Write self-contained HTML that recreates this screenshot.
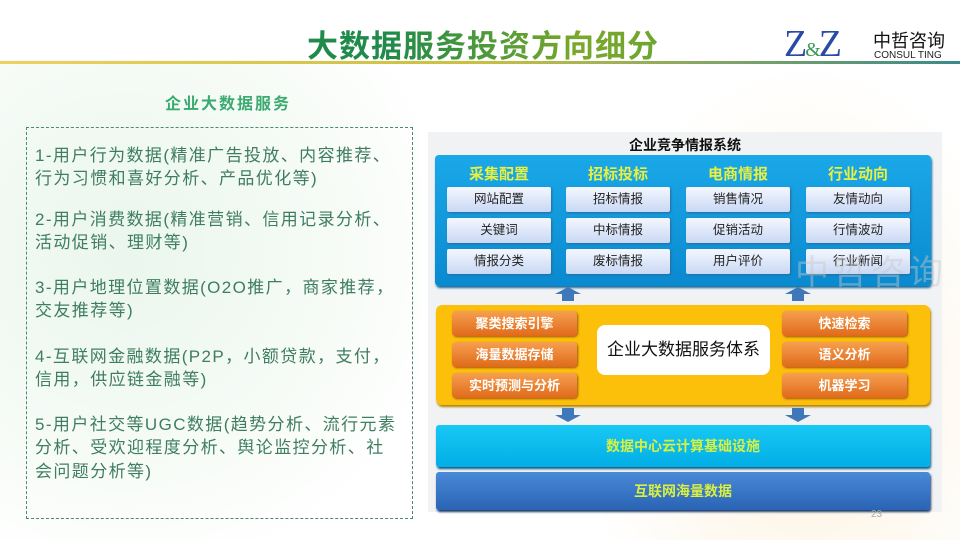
<!DOCTYPE html>
<html><head><meta charset="utf-8"><style>
*{margin:0;padding:0;box-sizing:border-box}
body{width:960px;height:540px;position:relative;overflow:hidden;background:#fff;font-family:"Liberation Sans","Noto Sans CJK SC",sans-serif}
.a{position:absolute}
.bg1{left:0;top:60px;width:420px;height:480px;background:radial-gradient(ellipse at 30% 40%,#eaf6ee 0%,#f6fbf6 50%,#fff 80%)}
.bg2{left:580px;top:60px;width:380px;height:480px;background:radial-gradient(ellipse at 60% 70%,#fdf3df 0%,#fff 70%)}
.title{left:0;width:966px;top:21px;text-align:center;font-size:31px;font-weight:bold;letter-spacing:1px;background:linear-gradient(90deg,#1f8a4a 40%,#7aa82a 60%,#3d9a4a);-webkit-background-clip:text;color:transparent}
.line{left:0;top:61px;width:960px;height:3px;background:linear-gradient(90deg,#f0d060,#c8c040 50%,#3a8a8a)}
.l{left:35px;font-size:17px;letter-spacing:1.4px;color:#3f7d61;white-space:nowrap;line-height:23px}
.box{left:26px;top:127px;width:387px;height:392px;border:1px dashed #4a8a70}
.cell{position:absolute;width:104px;height:25px;background:linear-gradient(#f4f7ff,#c9d8f4);border-radius:2px;box-shadow:1px 1px 2px #2a6a9a;font-size:12.5px;color:#222;text-align:center;line-height:25px}
.hd{position:absolute;top:163px;font-size:15px;font-weight:bold;color:#e8f040;width:104px;text-align:center}
.ob{position:absolute;width:125px;height:25px;background:linear-gradient(#f5a050,#e06a1a);border-radius:4px;box-shadow:1px 1px 2px #a05010;font-size:13px;font-weight:bold;color:#fff;text-align:center;line-height:25px}
.arr{position:absolute;width:0;height:0;border-left:13px solid transparent;border-right:13px solid transparent}
.stem{position:absolute;width:12px;height:7px;background:#3f78b8}
</style></head><body>
<div class="a bg1"></div><div class="a bg2"></div>
<div class="a title">大数据服务投资方向细分</div>
<div class="a" style="left:784px;top:22px;font-family:'Liberation Serif',serif;font-size:38px;color:#2a4aa8;letter-spacing:-2px">Z<span style="font-size:20px;color:#3a9a5a">&amp;</span>Z</div>
<div class="a" style="left:873px;top:27px;font-size:18px;color:#111;letter-spacing:0px">中哲咨询</div>
<div class="a" style="left:874px;top:50px;font-size:10px;color:#222">CONSUL TING</div>
<div class="a line"></div>
<div class="a" style="left:165px;top:90px;font-size:16px;letter-spacing:2px;color:#3aaa70;font-weight:bold">企业大数据服务</div>
<div class="a box"></div>
<div class="a l" style="top:144px">1-用户行为数据(精准广告投放、内容推荐、</div>
<div class="a l" style="top:167px">行为习惯和喜好分析、产品优化等)</div>
<div class="a l" style="top:208px">2-用户消费数据(精准营销、信用记录分析、</div>
<div class="a l" style="top:231px">活动促销、理财等)</div>
<div class="a l" style="top:276px">3-用户地理位置数据(O2O推广，商家推荐，</div>
<div class="a l" style="top:299px">交友推荐等)</div>
<div class="a l" style="top:345px">4-互联网金融数据(P2P，小额贷款，支付，</div>
<div class="a l" style="top:368px">信用，供应链金融等)</div>
<div class="a l" style="top:413px">5-用户社交等UGC数据(趋势分析、流行元素</div>
<div class="a l" style="top:436px">分析、受欢迎程度分析、舆论监控分析、社</div>
<div class="a l" style="top:460px">会问题分析等)</div>

<div class="a" style="left:428px;top:132px;width:514px;height:380px;background:#f1f2f4"></div>
<div class="a" style="left:428px;top:135px;width:514px;text-align:center;font-size:14px;font-weight:bold;color:#111">企业竞争情报系统</div>
<div class="a" style="left:435px;top:155px;width:496px;height:131px;background:linear-gradient(#1aa8e8,#0a8ad0);border-radius:4px;box-shadow:1px 2px 2px #156a9a"></div>
<div class="hd" style="left:447px">采集配置</div><div class="hd" style="left:566px">招标投标</div><div class="hd" style="left:686px">电商情报</div><div class="hd" style="left:806px">行业动向</div>
<div class="cell" style="left:447px;top:187px">网站配置</div><div class="cell" style="left:447px;top:218px">关键词</div><div class="cell" style="left:447px;top:249px">情报分类</div>
<div class="cell" style="left:566px;top:187px">招标情报</div><div class="cell" style="left:566px;top:218px">中标情报</div><div class="cell" style="left:566px;top:249px">废标情报</div>
<div class="cell" style="left:686px;top:187px">销售情况</div><div class="cell" style="left:686px;top:218px">促销活动</div><div class="cell" style="left:686px;top:249px">用户评价</div>
<div class="cell" style="left:806px;top:187px">友情动向</div><div class="cell" style="left:806px;top:218px">行情波动</div><div class="cell" style="left:806px;top:249px">行业新闻</div>
<div class="a" style="left:795px;top:245px;font-size:34px;color:rgba(200,200,200,.45);letter-spacing:4px">中哲咨询</div>

<div class="arr" style="left:555px;top:287px;border-bottom:7px solid #3f78b8"></div><div class="stem" style="left:562px;top:294px"></div>
<div class="arr" style="left:785px;top:287px;border-bottom:7px solid #3f78b8"></div><div class="stem" style="left:792px;top:294px"></div>

<div class="a" style="left:436px;top:305px;width:494px;height:100px;background:#fdc00a;border-radius:6px;box-shadow:1px 2px 2px #b08000"></div>
<div class="ob" style="left:452px;top:311px">聚类搜索引擎</div><div class="ob" style="left:452px;top:342px">海量数据存储</div><div class="ob" style="left:452px;top:373px">实时预测与分析</div>
<div class="ob" style="left:782px;top:311px">快速检索</div><div class="ob" style="left:782px;top:342px">语义分析</div><div class="ob" style="left:782px;top:373px">机器学习</div>
<div class="a" style="left:597px;top:325px;width:173px;height:50px;background:#fff;border-radius:8px;text-align:center;line-height:50px;font-size:17px;color:#111">企业大数据服务体系</div>

<div class="stem" style="left:562px;top:408px"></div><div class="arr" style="left:555px;top:415px;border-top:7px solid #3f78b8"></div>
<div class="stem" style="left:792px;top:408px"></div><div class="arr" style="left:785px;top:415px;border-top:7px solid #3f78b8"></div>

<div class="a" style="left:436px;top:425px;width:494px;height:42px;background:linear-gradient(#18c8f4,#02aee6);border-radius:3px;box-shadow:1px 2px 2px #0a5a8a;text-align:center;line-height:42px;font-size:14px;font-weight:bold;color:#d8f040">数据中心云计算基础设施</div>
<div class="a" style="left:436px;top:472px;width:494px;height:38px;background:linear-gradient(#4a8ad8,#2a64b4);border-radius:3px;box-shadow:1px 2px 2px #1a3a6a;text-align:center;line-height:38px;font-size:14px;font-weight:bold;color:#d8f040">互联网海量数据</div>
<div class="a" style="left:871px;top:509px;font-size:10px;color:#aaa">23</div>
</body></html>
